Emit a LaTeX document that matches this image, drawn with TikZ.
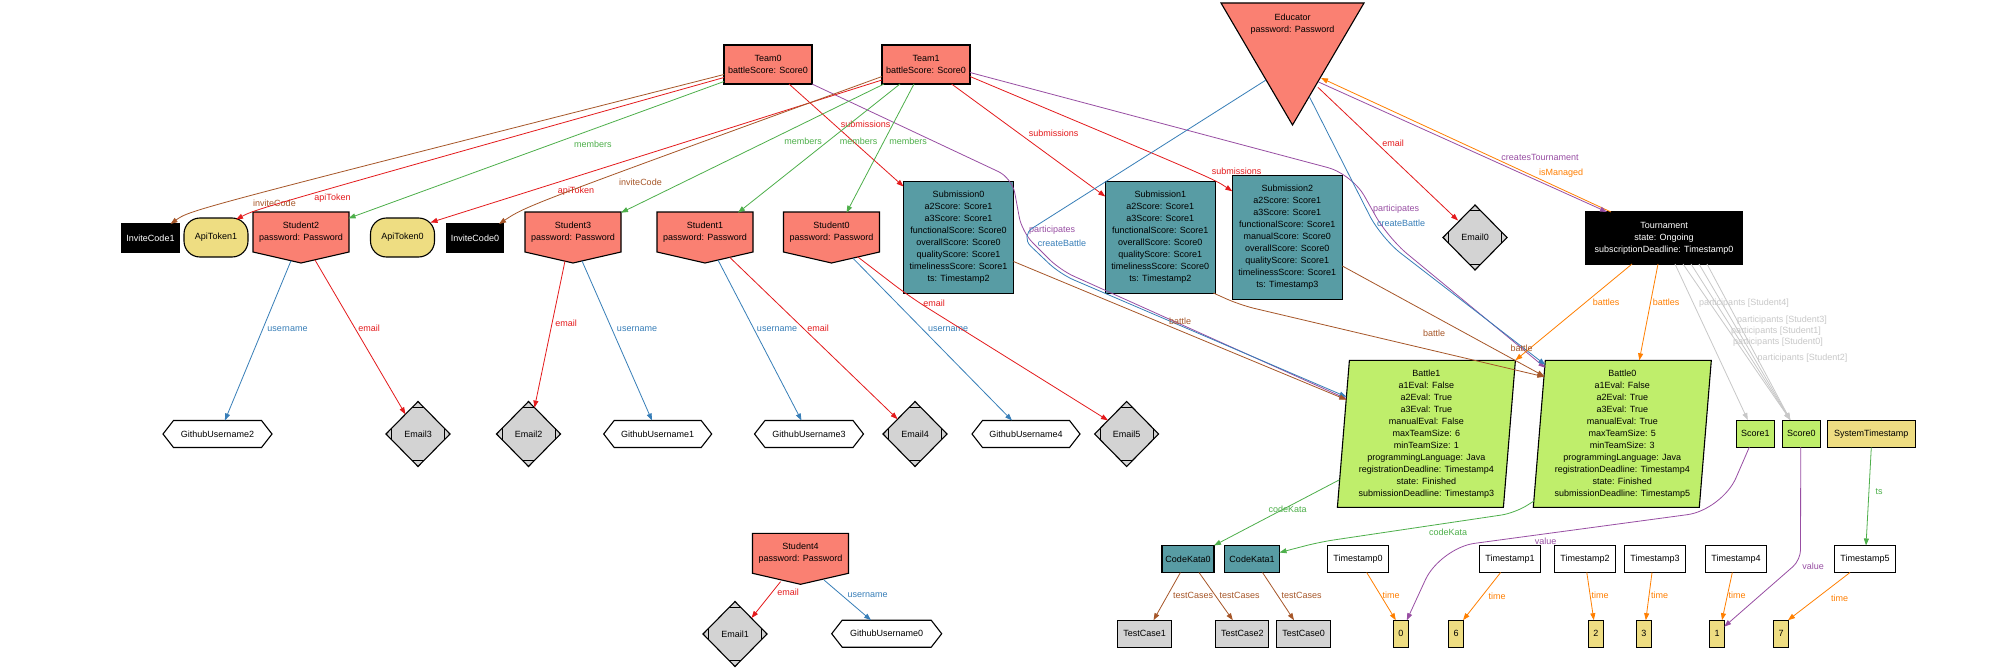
\documentclass[tikz,border=0pt]{standalone}
\usepackage{fontspec}
\setmainfont{Liberation Sans}
\usetikzlibrary{arrows.meta,calc,shapes.geometric}
\pgfdeclarelayer{bg}
\pgfsetlayers{bg,main}
\definecolor{salmonc}{RGB}{250,128,114}
\definecolor{tealc}{RGB}{88,156,164}
\definecolor{khakic}{RGB}{238,221,130}
\definecolor{lgreen}{RGB}{191,238,107}
\definecolor{lgray}{RGB}{211,211,211}
\definecolor{ered}{RGB}{228,26,28}
\definecolor{egreen}{RGB}{77,175,74}
\definecolor{eblue}{RGB}{55,126,184}
\definecolor{epurple}{RGB}{152,78,163}
\definecolor{eorange}{RGB}{255,127,0}
\definecolor{ebrown}{RGB}{166,86,40}
\definecolor{egray}{RGB}{200,200,200}
\newcommand\nf{\fontsize{9}{12}\selectfont}
\newcommand\stushape[1]{\begin{pgfonlayer}{bg}\draw[shapeline,fill=salmonc] (#1.south west) -- (#1.north west) -- (#1.north east) -- (#1.south east) -- ([yshift=-11pt]#1.south) -- cycle;\end{pgfonlayer}}
\newcommand\hexshape[1]{\begin{pgfonlayer}{bg}\draw[shapeline,fill=white] (#1.west) -- ([xshift=10.5pt]#1.north west) -- ([xshift=-10.5pt]#1.north east) -- (#1.east) -- ([xshift=-10.5pt]#1.south east) -- ([xshift=10.5pt]#1.south west) -- cycle;\end{pgfonlayer}}
\newcommand\parashape[1]{\begin{pgfonlayer}{bg}\draw[shapeline,fill=lgreen] ([xshift=6pt]#1.north west) -- ([xshift=6pt]#1.north east) -- ([xshift=-6pt]#1.south east) -- ([xshift=-6pt]#1.south west) -- cycle;\end{pgfonlayer}}
\newcommand\mdcuts[1]{\draw[line width=0.8pt] ($(#1.north)!0.18!(#1.west)$) -- ($(#1.north)!0.18!(#1.east)$) ($(#1.south)!0.18!(#1.west)$) -- ($(#1.south)!0.18!(#1.east)$) ($(#1.west)!0.17!(#1.north)$) -- ($(#1.west)!0.17!(#1.south)$) ($(#1.east)!0.17!(#1.north)$) -- ($(#1.east)!0.17!(#1.south)$);}
\begin{document}
\begin{tikzpicture}[x=1pt,y=-1pt,
  nd/.style={font=\nf, align=center, inner sep=0pt, outer sep=0pt},
  shapeline/.style={line width=1.1pt, draw=black, line join=miter},
  bx/.style={nd, rectangle, draw=black, line width=1.1pt},
  sal/.style={bx, fill=salmonc},
  tl/.style={bx, fill=tealc},
  blk/.style={bx, fill=black, text=white},
  kha/.style={bx, fill=khakic},
  grn/.style={bx, fill=lgreen},
  wht/.style={bx, fill=white, minimum width=61pt, minimum height=27pt},
  gry/.style={bx, fill=lgray, minimum height=27pt},
  intbox/.style={bx, fill=khakic, minimum width=15pt, minimum height=27pt},
  tok/.style={bx, fill=khakic, rounded corners=16pt, minimum width=64pt, minimum height=39pt},
  stu/.style={nd, minimum width=96pt, minimum height=40pt},
  hex/.style={nd, minimum height=27pt},
  bat/.style={nd, minimum width=166pt, minimum height=147pt},
  mdia/.style={nd, diamond, draw=black, line width=1.1pt, fill=lgray, minimum width=64pt, minimum height=65pt},
  edg/.style={line width=0.8pt, -{Triangle[length=7pt,width=5pt]}},
  lab/.style={font=\nf, inner sep=0pt}
]
\useasboundingbox (0,0) rectangle (2013,669);
\begin{pgfonlayer}{bg}\fill[white] (0,0) rectangle (2013,669);\end{pgfonlayer}

% ---------- nodes ----------
\node[sal, minimum width=88pt, minimum height=39pt] (Team0) at (768,64.5) {Team0\\battleScore: Score0};
\node[sal, minimum width=88pt, minimum height=39pt] (Team1) at (926,64.5) {Team1\\battleScore: Score0};
\node[nd, minimum width=143pt, minimum height=122pt, label={[nd,anchor=north,yshift=-11pt]north:{Educator\\password: Password}}] (Educator) at (1292.5,64) {};
\begin{pgfonlayer}{bg}\draw[shapeline,fill=salmonc] (Educator.north west) -- (Educator.north east) -- (Educator.south) -- cycle;\end{pgfonlayer}

\node[blk, minimum width=57pt, minimum height=28pt] (InviteCode1) at (150.5,238) {InviteCode1};
\node[tok] (ApiToken1) at (216,237.5) {ApiToken1};
\node[stu] (Student2) at (301,232) {Student2\\password: Password};
\node[tok] (ApiToken0) at (402.5,237.5) {ApiToken0};
\node[blk, minimum width=57pt, minimum height=28pt] (InviteCode0) at (475,238) {InviteCode0};
\node[stu] (Student3) at (573,232) {Student3\\password: Password};
\node[stu] (Student1) at (705,232) {Student1\\password: Password};
\node[stu] (Student0) at (831.5,232) {Student0\\password: Password};
\node[stu] (Student4) at (800.5,553.3) {Student4\\password: Password};

\node[tl, minimum width=110pt, minimum height=112pt] (Submission0) at (958.5,237.5) {Submission0\\a2Score: Score1\\a3Score: Score1\\functionalScore: Score0\\overallScore: Score0\\qualityScore: Score1\\timelinessScore: Score1\\ts: Timestamp2};
\node[tl, minimum width=110pt, minimum height=112pt] (Submission1) at (1160.3,237.5) {Submission1\\a2Score: Score1\\a3Score: Score1\\functionalScore: Score1\\overallScore: Score0\\qualityScore: Score1\\timelinessScore: Score0\\ts: Timestamp2};
\node[tl, minimum width=110pt, minimum height=124pt] (Submission2) at (1287.3,237.3) {Submission2\\a2Score: Score1\\a3Score: Score1\\functionalScore: Score1\\manualScore: Score0\\overallScore: Score0\\qualityScore: Score1\\timelinessScore: Score1\\ts: Timestamp3};
\node[mdia] (Email0) at (1475,237.5) {Email0};
\node[blk, minimum width=156pt, minimum height=52pt] (Tournament) at (1664,238) {Tournament\\state: Ongoing\\subscriptionDeadline: Timestamp0};

\node[bat] (Battle1) at (1426.4,433.8) {Battle1\\a1Eval: False\\a2Eval: True\\a3Eval: True\\manualEval: False\\maxTeamSize: 6\\minTeamSize: 1\\programmingLanguage: Java\\registrationDeadline: Timestamp4\\state: Finished\\submissionDeadline: Timestamp3};
\node[bat] (Battle0) at (1622.3,433.8) {Battle0\\a1Eval: False\\a2Eval: True\\a3Eval: True\\manualEval: True\\maxTeamSize: 5\\minTeamSize: 3\\programmingLanguage: Java\\registrationDeadline: Timestamp4\\state: Finished\\submissionDeadline: Timestamp5};
\node[grn, minimum width=38pt, minimum height=27pt] (Score1) at (1755.3,433.7) {Score1};
\node[grn, minimum width=38pt, minimum height=27pt] (Score0) at (1801.3,433.7) {Score0};
\node[kha, minimum width=88pt, minimum height=27pt] (SystemTimestamp) at (1871.3,433.8) {SystemTimestamp};

\node[hex, minimum width=109pt] (GithubUsername2) at (217.5,434) {GithubUsername2};
\node[mdia] (Email3) at (418,434) {Email3};
\node[mdia] (Email2) at (528.5,434) {Email2};
\node[hex, minimum width=108pt] (GithubUsername1) at (657.7,434) {GithubUsername1};
\node[hex, minimum width=109pt] (GithubUsername3) at (809,434) {GithubUsername3};
\node[mdia] (Email4) at (915,434) {Email4};
\node[hex, minimum width=108pt] (GithubUsername4) at (1026,434) {GithubUsername4};
\node[mdia] (Email5) at (1126.6,434) {Email5};
\node[mdia] (Email1) at (735,634) {Email1};
\node[hex, minimum width=110pt] (GithubUsername0) at (886.7,633.7) {GithubUsername0};

\node[tl, minimum width=52pt, minimum height=27pt] (CodeKata0) at (1188,559) {CodeKata0};
\node[tl, minimum width=55pt, minimum height=27pt] (CodeKata1) at (1252,559) {CodeKata1};
\node[wht] (Timestamp0) at (1358,559) {Timestamp0};
\node[wht] (Timestamp1) at (1510,559) {Timestamp1};
\node[wht] (Timestamp2) at (1585,559) {Timestamp2};
\node[wht] (Timestamp3) at (1655,559) {Timestamp3};
\node[wht] (Timestamp4) at (1736,559) {Timestamp4};
\node[wht] (Timestamp5) at (1865,559) {Timestamp5};
\node[gry, minimum width=54pt] (TestCase1) at (1144.5,633.7) {TestCase1};
\node[gry, minimum width=53pt] (TestCase2) at (1242.4,633.7) {TestCase2};
\node[gry, minimum width=54pt] (TestCase0) at (1303.5,633.7) {TestCase0};
\node[intbox] (IntZero) at (1400.8,633.7) {0};
\node[intbox] (IntSix) at (1456,633.7) {6};
\node[intbox] (IntTwo) at (1595.8,633.7) {2};
\node[intbox] (IntThree) at (1643.8,633.7) {3};
\node[intbox] (IntOne) at (1717,633.7) {1};
\node[intbox] (IntSeven) at (1781,633.7) {7};

\foreach \s in {Student0,Student1,Student2,Student3,Student4} {\stushape{\s}}
\foreach \s in {GithubUsername0,GithubUsername1,GithubUsername2,GithubUsername3,GithubUsername4} {\hexshape{\s}}
\foreach \s in {Battle0,Battle1} {\parashape{\s}}
\foreach \s in {Email0,Email1,Email2,Email3,Email4,Email5} {\mdcuts{\s}}

% ---------- edges: teams ----------
\draw[edg, ebrown] ($(Team0)+(-44,10)$) .. controls (190,210) .. ($(InviteCode1)+(20,-14)$) node[lab] at (274.5,203) {inviteCode};
\draw[edg, ered] ($(Team0)+(-44,13)$) .. controls (256,209) .. ($(ApiToken1)+(20,-18)$) node[lab] at (332.5,198) {apiToken};
\draw[edg, egreen] ($(Team0)+(-44,17)$) -- ($(Student2)+(47.5,-13.7)$) node[lab] at (592.8,144) {members};
\draw[edg, ered] ($(Team0)+(21,19.5)$) -- ($(Submission0)+(-55,-51)$) node[lab] at (865.7,124) {submissions};
\draw[edg, epurple, rounded corners=15pt] ($(Team0)+(44,19.5)$) -- (1012,178) -- (1022,232) -- (1060,270) -- ($(Battle1)+(-80,-35)$) node[lab] at (1052,230) {participates};

\draw[edg, ered] ($(Team1)+(-44,15.5)$) -- ($(ApiToken0)+(28,-15)$) node[lab] at (576,191) {apiToken};
\draw[edg, ebrown] ($(Team1)+(-44,12)$) .. controls (526,206) .. ($(InviteCode0)+(24,-14)$) node[lab] at (640.5,182) {inviteCode};
\draw[edg, egreen] ($(Team1)+(-42,19.5)$) -- ($(Student3)+(48,-19.3)$) node[lab] at (803,141) {members};
\draw[edg, egreen] ($(Team1)+(-26,19.5)$) -- ($(Student1)+(33,-19.3)$) node[lab] at (858.5,141) {members};
\draw[edg, egreen] ($(Team1)+(-12,19.5)$) -- ($(Student0)+(15,-19.3)$) node[lab] at (908,141) {members};
\draw[edg, ered] ($(Team1)+(25.6,19.5)$) -- ($(Submission1)+(-55,-41)$) node[lab] at (1053.5,133.5) {submissions};
\draw[edg, ered] ($(Team1)+(44,12)$) .. controls (1214,179) .. ($(Submission2)+(-55,-46)$) node[lab] at (1236.5,171) {submissions};
\draw[edg, epurple, rounded corners=25pt] ($(Team1)+(44,8)$) -- (1352,174) -- (1388,238) -- ($(Battle0)+(-77,-66)$) node[lab] at (1396,209) {participates};

% ---------- edges: educator / tournament ----------
\draw[edg, eblue, rounded corners=15pt] ($(Educator)+(-26.5,16)$) -- (1020,236) -- (1060,274) -- ($(Battle1)+(-80,-37)$) node[lab] at (1062,243.7) {createBattle};
\draw[edg, eblue, rounded corners=25pt] ($(Educator)+(17,33)$) -- (1381,238) -- ($(Battle0)+(-77,-69)$) node[lab] at (1401,223.7) {createBattle};
\draw[edg, ered] ($(Educator)+(25.4,23.3)$) -- ($(Email0)+(-17,-17)$) node[lab] at (1393,143.7) {email};
\draw[edg, eorange] ($(Tournament)+(-53,-26)$) -- ($(Educator)+(28.5,14)$) node[lab] at (1561,172.7) {isManaged};
\draw[edg, epurple] ($(Educator)+(26,18)$) -- ($(Tournament)+(-57,-26)$) node[lab] at (1540,157.7) {createsTournament};
\draw[edg, eorange] ($(Tournament)+(-32,26)$) -- ($(Battle1)+(89,-73.5)$) node[lab] at (1606,302.7) {battles};
\draw[edg, eorange] ($(Tournament)+(-6,26)$) -- ($(Battle0)+(17,-73.5)$) node[lab] at (1666,302.7) {battles};
\draw[edg, egray] ($(Tournament)+(11,26)$) -- ($(Score1)+(-7.5,-13.7)$) node[lab] at (1744,302.7) {participants [Student4]};
\draw[edg, egray] ($(Tournament)+(19,26)$) -- ($(Score0)+(-11,-13.7)$) node[lab] at (1782,319.7) {participants [Student3]};
\draw[edg, egray] ($(Tournament)+(27,26)$) -- ($(Score0)+(-11,-13.7)$) node[lab] at (1776,331) {participants [Student1]};
\draw[edg, egray] ($(Tournament)+(35,26)$) -- ($(Score0)+(-11,-13.7)$) node[lab] at (1778,341.7) {participants [Student0]};
\draw[edg, egray] ($(Tournament)+(43,26)$) -- ($(Score0)+(-11,-13.7)$) node[lab] at (1802.5,358) {participants [Student2]};

% ---------- edges: submissions / battles ----------
\draw[edg, ebrown] ($(Submission0)+(55,24)$) -- ($(Battle1)+(-80,-34)$) node[lab] at (1180,321) {battle};
\draw[edg, ebrown, rounded corners=15pt] ($(Submission1)+(53,55.5)$) -- (1240,305) -- ($(Battle0)+(-78,-57)$) node[lab] at (1434,333.7) {battle};
\draw[edg, ebrown] ($(Submission2)+(55,28.7)$) -- ($(Battle0)+(-78,-57.5)$) node[lab] at (1521.6,348.7) {battle};
\draw[edg, egreen] ($(Battle1)+(-87,46)$) -- ($(CodeKata0)+(26,-13.5)$) node[lab] at (1287.6,509.7) {codeKata};
\draw[edg, egreen, rounded corners=14pt] ($(Battle0)+(-88,67)$) -- (1515,513) -- (1320,542) -- ($(CodeKata1)+(27.5,-6.5)$) node[lab] at (1448,532) {codeKata};

% ---------- edges: bottom ----------
\draw[edg, ebrown] ($(CodeKata0)+(-7.6,13.5)$) -- ($(TestCase1)+(9,-13.5)$) node[lab] at (1193,595) {testCases};
\draw[edg, ebrown] ($(CodeKata0)+(11,13.5)$) -- ($(TestCase2)+(-9.6,-13.5)$) node[lab] at (1239.6,595) {testCases};
\draw[edg, ebrown] ($(CodeKata1)+(10.5,13.5)$) -- ($(TestCase0)+(-9.5,-13.5)$) node[lab] at (1301.5,595) {testCases};
\draw[edg, eorange] ($(Timestamp0)+(8.7,13.5)$) -- ($(IntZero)+(-5,-13.5)$) node[lab] at (1391,595) {time};
\draw[edg, eorange] ($(Timestamp1)+(-9.4,13.5)$) -- ($(IntSix)+(7,-13.5)$) node[lab] at (1497,596) {time};
\draw[edg, eorange] ($(Timestamp2)+(1.8,13.5)$) -- ($(IntTwo)+(-2,-13.5)$) node[lab] at (1600,595) {time};
\draw[edg, eorange] ($(Timestamp3)+(-3,13.5)$) -- ($(IntThree)+(2,-13.5)$) node[lab] at (1659.5,595) {time};
\draw[edg, eorange] ($(Timestamp4)+(-3.7,13.5)$) -- ($(IntOne)+(5,-13.5)$) node[lab] at (1737,595) {time};
\draw[edg, eorange] ($(Timestamp5)+(-15,13.5)$) -- ($(IntSeven)+(7,-13.5)$) node[lab] at (1839.5,598) {time};
\draw[edg, epurple, rounded corners=35pt] ($(Score1)+(-6,13.5)$) -- (1722,510) -- (1440,548) -- ($(IntZero)+(6,-13.5)$) node[lab] at (1545.5,541) {value};
\draw[edg, epurple, rounded corners=10pt] ($(Score0)+(-0.6,13.5)$) -- (1800.5,560) -- ($(IntOne)+(7.2,-7)$) node[lab] at (1813,566) {value};
\draw[edg, egreen] ($(SystemTimestamp)+(0,13.5)$) -- ($(Timestamp5)+(1,-13.5)$) node[lab] at (1879,492) {ts};

% ---------- edges: students ----------
\draw[edg, eblue] ($(Student2)+(-10,28.7)$) -- ($(GithubUsername2)+(7.4,-13.5)$) node[lab] at (287.5,328.7) {username};
\draw[edg, ered] ($(Student2)+(14,28)$) -- ($(Email3)+(-12.6,-19.7)$) node[lab] at (369,328.7) {email};
\draw[edg, ered] ($(Student3)+(-8,29)$) -- ($(Email2)+(6,-26.4)$) node[lab] at (566,323.5) {email};
\draw[edg, eblue] ($(Student3)+(9,28.9)$) -- ($(GithubUsername1)+(-5.7,-13.5)$) node[lab] at (637,328.7) {username};
\draw[edg, eblue] ($(Student1)+(13,28)$) -- ($(GithubUsername3)+(-7.5,-13.5)$) node[lab] at (777,328.7) {username};
\draw[edg, ered] ($(Student1)+(24.7,25.3)$) -- ($(Email4)+(-17.4,-14.8)$) node[lab] at (818,328.7) {email};
\draw[edg, eblue] ($(Student0)+(21.5,26.3)$) -- ($(GithubUsername4)+(-14,-13.5)$) node[lab] at (948,328.7) {username};
\draw[edg, ered, rounded corners=20pt] ($(Student0)+(26,24.7)$) -- (910,297) -- ($(Email5)+(-18.6,-13.6)$) node[lab] at (934,303.7) {email};
\draw[edg, ered] ($(Student4)+(-20,28.4)$) -- ($(Email1)+(16.5,-16)$) node[lab] at (788,592.7) {email};
\draw[edg, eblue] ($(Student4)+(23.5,26.7)$) -- ($(GithubUsername0)+(-15.7,-13.5)$) node[lab] at (867.7,595) {username};
\end{tikzpicture}
\end{document}
